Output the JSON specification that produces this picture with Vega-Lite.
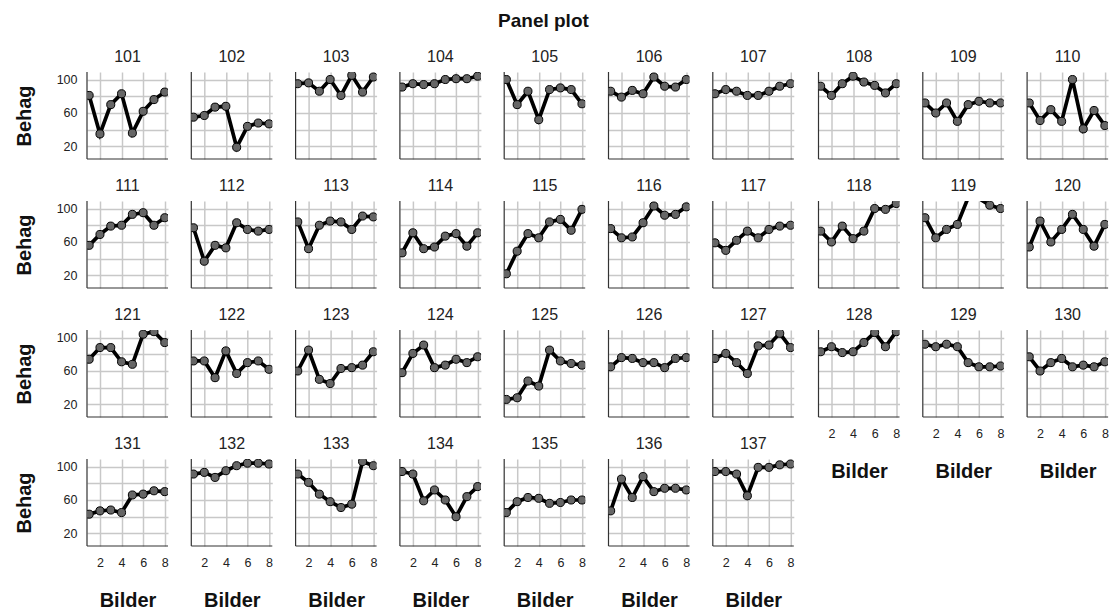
{
"$schema": "https://vega.github.io/schema/vega-lite/v6.json",
"title": {"text": "Panel plot", "fontSize": 19, "font": "Liberation Sans", "fontWeight": "bold", "anchor": "middle", "offset": 18, "dx": -18, "color": "#111"},
"padding": {"left": 14, "top": 11, "right": 2, "bottom": 0},
"spacing": 22.5,
"data": {"values": [
{"Teilnehmer":"101","Bilder":1,"Behag":81},{"Teilnehmer":"101","Bilder":2,"Behag":35},{"Teilnehmer":"101","Bilder":3,"Behag":70},{"Teilnehmer":"101","Bilder":4,"Behag":83},{"Teilnehmer":"101","Bilder":5,"Behag":36},{"Teilnehmer":"101","Bilder":6,"Behag":62},{"Teilnehmer":"101","Bilder":7,"Behag":76},{"Teilnehmer":"101","Bilder":8,"Behag":85},
{"Teilnehmer":"102","Bilder":1,"Behag":55},{"Teilnehmer":"102","Bilder":2,"Behag":57},{"Teilnehmer":"102","Bilder":3,"Behag":67},{"Teilnehmer":"102","Bilder":4,"Behag":68},{"Teilnehmer":"102","Bilder":5,"Behag":19},{"Teilnehmer":"102","Bilder":6,"Behag":44},{"Teilnehmer":"102","Bilder":7,"Behag":48},{"Teilnehmer":"102","Bilder":8,"Behag":47},
{"Teilnehmer":"103","Bilder":1,"Behag":95},{"Teilnehmer":"103","Bilder":2,"Behag":96},{"Teilnehmer":"103","Bilder":3,"Behag":86},{"Teilnehmer":"103","Bilder":4,"Behag":100},{"Teilnehmer":"103","Bilder":5,"Behag":81},{"Teilnehmer":"103","Bilder":6,"Behag":105},{"Teilnehmer":"103","Bilder":7,"Behag":85},{"Teilnehmer":"103","Bilder":8,"Behag":103},
{"Teilnehmer":"104","Bilder":1,"Behag":91},{"Teilnehmer":"104","Bilder":2,"Behag":95},{"Teilnehmer":"104","Bilder":3,"Behag":94},{"Teilnehmer":"104","Bilder":4,"Behag":95},{"Teilnehmer":"104","Bilder":5,"Behag":100},{"Teilnehmer":"104","Bilder":6,"Behag":101},{"Teilnehmer":"104","Bilder":7,"Behag":101},{"Teilnehmer":"104","Bilder":8,"Behag":104},
{"Teilnehmer":"105","Bilder":1,"Behag":100},{"Teilnehmer":"105","Bilder":2,"Behag":70},{"Teilnehmer":"105","Bilder":3,"Behag":86},{"Teilnehmer":"105","Bilder":4,"Behag":52},{"Teilnehmer":"105","Bilder":5,"Behag":88},{"Teilnehmer":"105","Bilder":6,"Behag":90},{"Teilnehmer":"105","Bilder":7,"Behag":88},{"Teilnehmer":"105","Bilder":8,"Behag":71},
{"Teilnehmer":"106","Bilder":1,"Behag":86},{"Teilnehmer":"106","Bilder":2,"Behag":79},{"Teilnehmer":"106","Bilder":3,"Behag":87},{"Teilnehmer":"106","Bilder":4,"Behag":83},{"Teilnehmer":"106","Bilder":5,"Behag":103},{"Teilnehmer":"106","Bilder":6,"Behag":92},{"Teilnehmer":"106","Bilder":7,"Behag":91},{"Teilnehmer":"106","Bilder":8,"Behag":100},
{"Teilnehmer":"107","Bilder":1,"Behag":83},{"Teilnehmer":"107","Bilder":2,"Behag":88},{"Teilnehmer":"107","Bilder":3,"Behag":86},{"Teilnehmer":"107","Bilder":4,"Behag":81},{"Teilnehmer":"107","Bilder":5,"Behag":81},{"Teilnehmer":"107","Bilder":6,"Behag":86},{"Teilnehmer":"107","Bilder":7,"Behag":92},{"Teilnehmer":"107","Bilder":8,"Behag":95},
{"Teilnehmer":"108","Bilder":1,"Behag":92},{"Teilnehmer":"108","Bilder":2,"Behag":81},{"Teilnehmer":"108","Bilder":3,"Behag":95},{"Teilnehmer":"108","Bilder":4,"Behag":104},{"Teilnehmer":"108","Bilder":5,"Behag":97},{"Teilnehmer":"108","Bilder":6,"Behag":93},{"Teilnehmer":"108","Bilder":7,"Behag":84},{"Teilnehmer":"108","Bilder":8,"Behag":95},
{"Teilnehmer":"109","Bilder":1,"Behag":72},{"Teilnehmer":"109","Bilder":2,"Behag":60},{"Teilnehmer":"109","Bilder":3,"Behag":72},{"Teilnehmer":"109","Bilder":4,"Behag":50},{"Teilnehmer":"109","Bilder":5,"Behag":70},{"Teilnehmer":"109","Bilder":6,"Behag":74},{"Teilnehmer":"109","Bilder":7,"Behag":72},{"Teilnehmer":"109","Bilder":8,"Behag":72},
{"Teilnehmer":"110","Bilder":1,"Behag":72},{"Teilnehmer":"110","Bilder":2,"Behag":51},{"Teilnehmer":"110","Bilder":3,"Behag":64},{"Teilnehmer":"110","Bilder":4,"Behag":50},{"Teilnehmer":"110","Bilder":5,"Behag":100},{"Teilnehmer":"110","Bilder":6,"Behag":41},{"Teilnehmer":"110","Bilder":7,"Behag":63},{"Teilnehmer":"110","Bilder":8,"Behag":45},
{"Teilnehmer":"111","Bilder":1,"Behag":56},{"Teilnehmer":"111","Bilder":2,"Behag":69},{"Teilnehmer":"111","Bilder":3,"Behag":79},{"Teilnehmer":"111","Bilder":4,"Behag":80},{"Teilnehmer":"111","Bilder":5,"Behag":93},{"Teilnehmer":"111","Bilder":6,"Behag":95},{"Teilnehmer":"111","Bilder":7,"Behag":80},{"Teilnehmer":"111","Bilder":8,"Behag":89},
{"Teilnehmer":"112","Bilder":1,"Behag":77},{"Teilnehmer":"112","Bilder":2,"Behag":37},{"Teilnehmer":"112","Bilder":3,"Behag":56},{"Teilnehmer":"112","Bilder":4,"Behag":53},{"Teilnehmer":"112","Bilder":5,"Behag":83},{"Teilnehmer":"112","Bilder":6,"Behag":75},{"Teilnehmer":"112","Bilder":7,"Behag":73},{"Teilnehmer":"112","Bilder":8,"Behag":75},
{"Teilnehmer":"113","Bilder":1,"Behag":84},{"Teilnehmer":"113","Bilder":2,"Behag":52},{"Teilnehmer":"113","Bilder":3,"Behag":80},{"Teilnehmer":"113","Bilder":4,"Behag":85},{"Teilnehmer":"113","Bilder":5,"Behag":84},{"Teilnehmer":"113","Bilder":6,"Behag":75},{"Teilnehmer":"113","Bilder":7,"Behag":91},{"Teilnehmer":"113","Bilder":8,"Behag":90},
{"Teilnehmer":"114","Bilder":1,"Behag":47},{"Teilnehmer":"114","Bilder":2,"Behag":71},{"Teilnehmer":"114","Bilder":3,"Behag":52},{"Teilnehmer":"114","Bilder":4,"Behag":54},{"Teilnehmer":"114","Bilder":5,"Behag":67},{"Teilnehmer":"114","Bilder":6,"Behag":70},{"Teilnehmer":"114","Bilder":7,"Behag":55},{"Teilnehmer":"114","Bilder":8,"Behag":71},
{"Teilnehmer":"115","Bilder":1,"Behag":22},{"Teilnehmer":"115","Bilder":2,"Behag":49},{"Teilnehmer":"115","Bilder":3,"Behag":70},{"Teilnehmer":"115","Bilder":4,"Behag":65},{"Teilnehmer":"115","Bilder":5,"Behag":84},{"Teilnehmer":"115","Bilder":6,"Behag":87},{"Teilnehmer":"115","Bilder":7,"Behag":74},{"Teilnehmer":"115","Bilder":8,"Behag":99},
{"Teilnehmer":"116","Bilder":1,"Behag":76},{"Teilnehmer":"116","Bilder":2,"Behag":65},{"Teilnehmer":"116","Bilder":3,"Behag":66},{"Teilnehmer":"116","Bilder":4,"Behag":83},{"Teilnehmer":"116","Bilder":5,"Behag":103},{"Teilnehmer":"116","Bilder":6,"Behag":92},{"Teilnehmer":"116","Bilder":7,"Behag":93},{"Teilnehmer":"116","Bilder":8,"Behag":102},
{"Teilnehmer":"117","Bilder":1,"Behag":59},{"Teilnehmer":"117","Bilder":2,"Behag":50},{"Teilnehmer":"117","Bilder":3,"Behag":62},{"Teilnehmer":"117","Bilder":4,"Behag":73},{"Teilnehmer":"117","Bilder":5,"Behag":65},{"Teilnehmer":"117","Bilder":6,"Behag":75},{"Teilnehmer":"117","Bilder":7,"Behag":79},{"Teilnehmer":"117","Bilder":8,"Behag":80},
{"Teilnehmer":"118","Bilder":1,"Behag":73},{"Teilnehmer":"118","Bilder":2,"Behag":60},{"Teilnehmer":"118","Bilder":3,"Behag":79},{"Teilnehmer":"118","Bilder":4,"Behag":64},{"Teilnehmer":"118","Bilder":5,"Behag":73},{"Teilnehmer":"118","Bilder":6,"Behag":100},{"Teilnehmer":"118","Bilder":7,"Behag":99},{"Teilnehmer":"118","Bilder":8,"Behag":106},
{"Teilnehmer":"119","Bilder":1,"Behag":89},{"Teilnehmer":"119","Bilder":2,"Behag":65},{"Teilnehmer":"119","Bilder":3,"Behag":75},{"Teilnehmer":"119","Bilder":4,"Behag":81},{"Teilnehmer":"119","Bilder":5,"Behag":113},{"Teilnehmer":"119","Bilder":6,"Behag":112},{"Teilnehmer":"119","Bilder":7,"Behag":104},{"Teilnehmer":"119","Bilder":8,"Behag":100},
{"Teilnehmer":"120","Bilder":1,"Behag":54},{"Teilnehmer":"120","Bilder":2,"Behag":85},{"Teilnehmer":"120","Bilder":3,"Behag":60},{"Teilnehmer":"120","Bilder":4,"Behag":75},{"Teilnehmer":"120","Bilder":5,"Behag":93},{"Teilnehmer":"120","Bilder":6,"Behag":75},{"Teilnehmer":"120","Bilder":7,"Behag":55},{"Teilnehmer":"120","Bilder":8,"Behag":81},
{"Teilnehmer":"121","Bilder":1,"Behag":74},{"Teilnehmer":"121","Bilder":2,"Behag":88},{"Teilnehmer":"121","Bilder":3,"Behag":88},{"Teilnehmer":"121","Bilder":4,"Behag":71},{"Teilnehmer":"121","Bilder":5,"Behag":68},{"Teilnehmer":"121","Bilder":6,"Behag":104},{"Teilnehmer":"121","Bilder":7,"Behag":107},{"Teilnehmer":"121","Bilder":8,"Behag":94},
{"Teilnehmer":"122","Bilder":1,"Behag":72},{"Teilnehmer":"122","Bilder":2,"Behag":72},{"Teilnehmer":"122","Bilder":3,"Behag":52},{"Teilnehmer":"122","Bilder":4,"Behag":84},{"Teilnehmer":"122","Bilder":5,"Behag":57},{"Teilnehmer":"122","Bilder":6,"Behag":70},{"Teilnehmer":"122","Bilder":7,"Behag":72},{"Teilnehmer":"122","Bilder":8,"Behag":62},
{"Teilnehmer":"123","Bilder":1,"Behag":60},{"Teilnehmer":"123","Bilder":2,"Behag":85},{"Teilnehmer":"123","Bilder":3,"Behag":50},{"Teilnehmer":"123","Bilder":4,"Behag":45},{"Teilnehmer":"123","Bilder":5,"Behag":63},{"Teilnehmer":"123","Bilder":6,"Behag":64},{"Teilnehmer":"123","Bilder":7,"Behag":67},{"Teilnehmer":"123","Bilder":8,"Behag":83},
{"Teilnehmer":"124","Bilder":1,"Behag":58},{"Teilnehmer":"124","Bilder":2,"Behag":81},{"Teilnehmer":"124","Bilder":3,"Behag":91},{"Teilnehmer":"124","Bilder":4,"Behag":64},{"Teilnehmer":"124","Bilder":5,"Behag":67},{"Teilnehmer":"124","Bilder":6,"Behag":74},{"Teilnehmer":"124","Bilder":7,"Behag":70},{"Teilnehmer":"124","Bilder":8,"Behag":77},
{"Teilnehmer":"125","Bilder":1,"Behag":26},{"Teilnehmer":"125","Bilder":2,"Behag":28},{"Teilnehmer":"125","Bilder":3,"Behag":48},{"Teilnehmer":"125","Bilder":4,"Behag":42},{"Teilnehmer":"125","Bilder":5,"Behag":85},{"Teilnehmer":"125","Bilder":6,"Behag":72},{"Teilnehmer":"125","Bilder":7,"Behag":69},{"Teilnehmer":"125","Bilder":8,"Behag":67},
{"Teilnehmer":"126","Bilder":1,"Behag":65},{"Teilnehmer":"126","Bilder":2,"Behag":76},{"Teilnehmer":"126","Bilder":3,"Behag":75},{"Teilnehmer":"126","Bilder":4,"Behag":70},{"Teilnehmer":"126","Bilder":5,"Behag":70},{"Teilnehmer":"126","Bilder":6,"Behag":64},{"Teilnehmer":"126","Bilder":7,"Behag":75},{"Teilnehmer":"126","Bilder":8,"Behag":76},
{"Teilnehmer":"127","Bilder":1,"Behag":75},{"Teilnehmer":"127","Bilder":2,"Behag":81},{"Teilnehmer":"127","Bilder":3,"Behag":70},{"Teilnehmer":"127","Bilder":4,"Behag":57},{"Teilnehmer":"127","Bilder":5,"Behag":90},{"Teilnehmer":"127","Bilder":6,"Behag":91},{"Teilnehmer":"127","Bilder":7,"Behag":105},{"Teilnehmer":"127","Bilder":8,"Behag":88},
{"Teilnehmer":"128","Bilder":1,"Behag":83},{"Teilnehmer":"128","Bilder":2,"Behag":89},{"Teilnehmer":"128","Bilder":3,"Behag":82},{"Teilnehmer":"128","Bilder":4,"Behag":83},{"Teilnehmer":"128","Bilder":5,"Behag":94},{"Teilnehmer":"128","Bilder":6,"Behag":106},{"Teilnehmer":"128","Bilder":7,"Behag":89},{"Teilnehmer":"128","Bilder":8,"Behag":107},
{"Teilnehmer":"129","Bilder":1,"Behag":92},{"Teilnehmer":"129","Bilder":2,"Behag":89},{"Teilnehmer":"129","Bilder":3,"Behag":92},{"Teilnehmer":"129","Bilder":4,"Behag":89},{"Teilnehmer":"129","Bilder":5,"Behag":70},{"Teilnehmer":"129","Bilder":6,"Behag":65},{"Teilnehmer":"129","Bilder":7,"Behag":65},{"Teilnehmer":"129","Bilder":8,"Behag":66},
{"Teilnehmer":"130","Bilder":1,"Behag":77},{"Teilnehmer":"130","Bilder":2,"Behag":60},{"Teilnehmer":"130","Bilder":3,"Behag":70},{"Teilnehmer":"130","Bilder":4,"Behag":75},{"Teilnehmer":"130","Bilder":5,"Behag":65},{"Teilnehmer":"130","Bilder":6,"Behag":67},{"Teilnehmer":"130","Bilder":7,"Behag":65},{"Teilnehmer":"130","Bilder":8,"Behag":71},
{"Teilnehmer":"131","Bilder":1,"Behag":43},{"Teilnehmer":"131","Bilder":2,"Behag":47},{"Teilnehmer":"131","Bilder":3,"Behag":48},{"Teilnehmer":"131","Bilder":4,"Behag":45},{"Teilnehmer":"131","Bilder":5,"Behag":66},{"Teilnehmer":"131","Bilder":6,"Behag":67},{"Teilnehmer":"131","Bilder":7,"Behag":71},{"Teilnehmer":"131","Bilder":8,"Behag":70},
{"Teilnehmer":"132","Bilder":1,"Behag":91},{"Teilnehmer":"132","Bilder":2,"Behag":93},{"Teilnehmer":"132","Bilder":3,"Behag":87},{"Teilnehmer":"132","Bilder":4,"Behag":95},{"Teilnehmer":"132","Bilder":5,"Behag":101},{"Teilnehmer":"132","Bilder":6,"Behag":104},{"Teilnehmer":"132","Bilder":7,"Behag":104},{"Teilnehmer":"132","Bilder":8,"Behag":103},
{"Teilnehmer":"133","Bilder":1,"Behag":91},{"Teilnehmer":"133","Bilder":2,"Behag":81},{"Teilnehmer":"133","Bilder":3,"Behag":67},{"Teilnehmer":"133","Bilder":4,"Behag":58},{"Teilnehmer":"133","Bilder":5,"Behag":51},{"Teilnehmer":"133","Bilder":6,"Behag":55},{"Teilnehmer":"133","Bilder":7,"Behag":106},{"Teilnehmer":"133","Bilder":8,"Behag":101},
{"Teilnehmer":"134","Bilder":1,"Behag":94},{"Teilnehmer":"134","Bilder":2,"Behag":91},{"Teilnehmer":"134","Bilder":3,"Behag":59},{"Teilnehmer":"134","Bilder":4,"Behag":72},{"Teilnehmer":"134","Bilder":5,"Behag":60},{"Teilnehmer":"134","Bilder":6,"Behag":40},{"Teilnehmer":"134","Bilder":7,"Behag":64},{"Teilnehmer":"134","Bilder":8,"Behag":76},
{"Teilnehmer":"135","Bilder":1,"Behag":45},{"Teilnehmer":"135","Bilder":2,"Behag":58},{"Teilnehmer":"135","Bilder":3,"Behag":63},{"Teilnehmer":"135","Bilder":4,"Behag":62},{"Teilnehmer":"135","Bilder":5,"Behag":56},{"Teilnehmer":"135","Bilder":6,"Behag":57},{"Teilnehmer":"135","Bilder":7,"Behag":60},{"Teilnehmer":"135","Bilder":8,"Behag":60},
{"Teilnehmer":"136","Bilder":1,"Behag":47},{"Teilnehmer":"136","Bilder":2,"Behag":85},{"Teilnehmer":"136","Bilder":3,"Behag":63},{"Teilnehmer":"136","Bilder":4,"Behag":88},{"Teilnehmer":"136","Bilder":5,"Behag":70},{"Teilnehmer":"136","Bilder":6,"Behag":74},{"Teilnehmer":"136","Bilder":7,"Behag":74},{"Teilnehmer":"136","Bilder":8,"Behag":72},
{"Teilnehmer":"137","Bilder":1,"Behag":94},{"Teilnehmer":"137","Bilder":2,"Behag":94},{"Teilnehmer":"137","Bilder":3,"Behag":91},{"Teilnehmer":"137","Bilder":4,"Behag":65},{"Teilnehmer":"137","Bilder":5,"Behag":99},{"Teilnehmer":"137","Bilder":6,"Behag":99},{"Teilnehmer":"137","Bilder":7,"Behag":102},{"Teilnehmer":"137","Bilder":8,"Behag":103}
]},
"hconcat": [
{
"transform": [{"filter": "(toNumber(datum.Teilnehmer) - 101) % 10 < 7"}],
"facet": {"field": "Teilnehmer", "type": "nominal", "header": {"title": null, "labelFontSize": 16, "labelFont": "Liberation Sans", "labelPadding": 6.5, "labelColor": "#222"}},
"columns": 7,
"spacing": {"column": 21.3, "row": 17},
"spec": {
"width": 81,
"height": 87,
"encoding": {
"x": {"field": "Bilder", "type": "quantitative", "scale": {"domain": [0.8, 8.3], "nice": false, "zero": false}, "axis": {"values": [2, 4, 6, 8], "title": "Bilder"}},
"y": {"field": "Behag", "type": "quantitative", "scale": {"domain": [5, 109], "nice": false, "zero": false}, "axis": {"values": [20, 40, 60, 80, 100], "labelExpr": "datum.value == 40 || datum.value == 80 ? '' : datum.label", "title": "Behag"}}
},
"layer": [
{"transform": [{"filter": "datum.Bilder == 1"}], "mark": {"type": "rule", "color": "#333", "strokeWidth": 1.2}, "encoding": {"x": {"datum": 0.8}, "y": null}},
{"transform": [{"filter": "datum.Bilder == 1"}], "mark": {"type": "rule", "color": "#333", "strokeWidth": 1.2}, "encoding": {"y": {"datum": 5}, "x": null}},
{"mark": {"type": "line", "color": "black", "strokeWidth": 3.7, "clip": true}},
{"transform": [{"filter": "datum.Behag <= 109"}], "mark": {"type": "point", "filled": true, "fill": "#666666", "stroke": "black", "strokeWidth": 1, "size": 65, "opacity": 1, "clip": true}}
]
}
},
{
"transform": [{"filter": "(toNumber(datum.Teilnehmer) - 101) % 10 >= 7"}],
"facet": {"field": "Teilnehmer", "type": "nominal", "header": {"title": null, "labelFontSize": 16, "labelFont": "Liberation Sans", "labelPadding": 6.5, "labelColor": "#222"}},
"columns": 3,
"spacing": {"column": 21.3, "row": 17},
"spec": {
"width": 81,
"height": 87,
"encoding": {
"x": {"field": "Bilder", "type": "quantitative", "scale": {"domain": [0.8, 8.3], "nice": false, "zero": false}, "axis": {"values": [2, 4, 6, 8], "title": "Bilder"}},
"y": {"field": "Behag", "type": "quantitative", "scale": {"domain": [5, 109], "nice": false, "zero": false}, "axis": {"values": [20, 40, 60, 80, 100], "labels": false, "title": null}}
},
"layer": [
{"transform": [{"filter": "datum.Bilder == 1"}], "mark": {"type": "rule", "color": "#333", "strokeWidth": 1.2}, "encoding": {"x": {"datum": 0.8}, "y": null}},
{"transform": [{"filter": "datum.Bilder == 1"}], "mark": {"type": "rule", "color": "#333", "strokeWidth": 1.2}, "encoding": {"y": {"datum": 5}, "x": null}},
{"mark": {"type": "line", "color": "black", "strokeWidth": 3.7, "clip": true}},
{"transform": [{"filter": "datum.Behag <= 109"}], "mark": {"type": "point", "filled": true, "fill": "#666666", "stroke": "black", "strokeWidth": 1, "size": 65, "opacity": 1, "clip": true}}
]
}
}
],
"config": {
"view": {"stroke": null},
"axis": {"grid": true, "gridColor": "#c8c8c8", "gridWidth": 1.5, "domain": false, "ticks": false, "labelFont": "Liberation Sans", "labelFontSize": 12.5, "labelColor": "#222", "labelPadding": 9, "titleFont": "Liberation Sans", "titleFontSize": 20, "titleFontWeight": "bold", "titleColor": "#111"},
"axisY": {"titlePadding": 22},
"axisX": {"titlePadding": 22}
}
}
